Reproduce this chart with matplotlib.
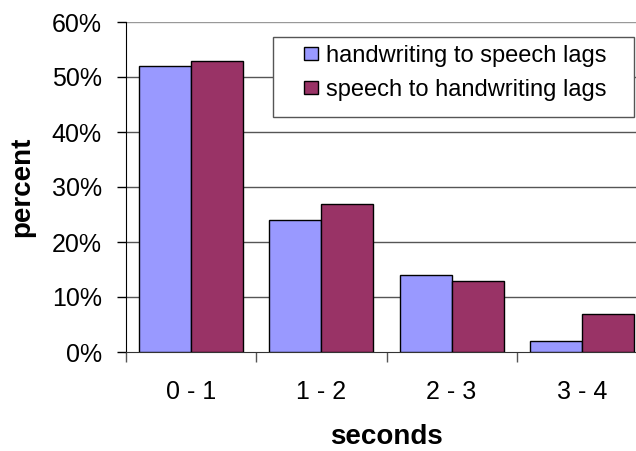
import matplotlib
matplotlib.use("Agg")
import matplotlib.pyplot as plt
from matplotlib.patches import Rectangle
import numpy as np

plt.rcParams['font.family'] = ['Liberation Sans', 'DejaVu Sans']

categories = ["0 - 1", "1 - 2", "2 - 3", "3 - 4"]
hw_to_speech = [52, 24, 14, 2]
speech_to_hw = [53, 27, 13, 7]
yticks = [0, 10, 20, 30, 40, 50, 60]

W, H = 636, 451
fig = plt.figure(figsize=(W/100, H/100), dpi=100)
ax = fig.add_axes([126/W, 1 - 352/H, 521/W, 330/H])

x = np.arange(len(categories))
w = 0.4
ax.bar(x - w/2, hw_to_speech, w, color="#9999FF", edgecolor="black", linewidth=1,
       label="handwriting to speech lags", zorder=3)
ax.bar(x + w/2, speech_to_hw, w, color="#993366", edgecolor="black", linewidth=1,
       label="speech to handwriting lags", zorder=3)

ax.set_xlim(-0.5, len(categories) - 0.5)
ax.set_ylim(0, 60)
ax.set_yticks(yticks)
ax.set_yticklabels([f"{v}%" for v in yticks], fontsize=18)
ax.set_xticks(x)
ax.set_xticklabels(categories, fontsize=18)
ax.tick_params(axis='x', length=0, pad=20)
ax.set_xticks(np.arange(-0.5, len(categories)), minor=True)
ax.tick_params(axis='x', which='minor', length=7, width=1, color="#555555")
ax.tick_params(axis='y', length=6.5, width=1, pad=11)

for v in yticks[1:]:
    ax.axhline(v, color="#555555" if v < 60 else "#999999", linewidth=1, zorder=1)

for s in ["top", "right"]:
    ax.spines[s].set_visible(False)
ax.spines["left"].set_color("black")
ax.spines["bottom"].set_color("#333333")

ax.set_ylabel("percent", fontsize=20, fontweight="bold", labelpad=12)
ax.set_xlabel("seconds", fontsize=20, fontweight="bold", labelpad=14.5)

# legend box drawn separately (wide horizontal padding like the original)
box = Rectangle((273/W, 1 - 117/H), (634 - 273)/W, 80/H, transform=fig.transFigure,
                facecolor="white", edgecolor="#555555", linewidth=1, zorder=4)
fig.patches.append(box)
leg = fig.legend(*ax.get_legend_handles_labels(), loc="upper left",
                 bbox_to_anchor=(304/W, 1 - 45/H), fontsize=17, frameon=False,
                 handlelength=0.6, handleheight=0.5, handletextpad=0.35,
                 labelspacing=0.5, borderpad=0, borderaxespad=0)
leg.set_zorder(5)

fig.savefig("out.png", dpi=100)
